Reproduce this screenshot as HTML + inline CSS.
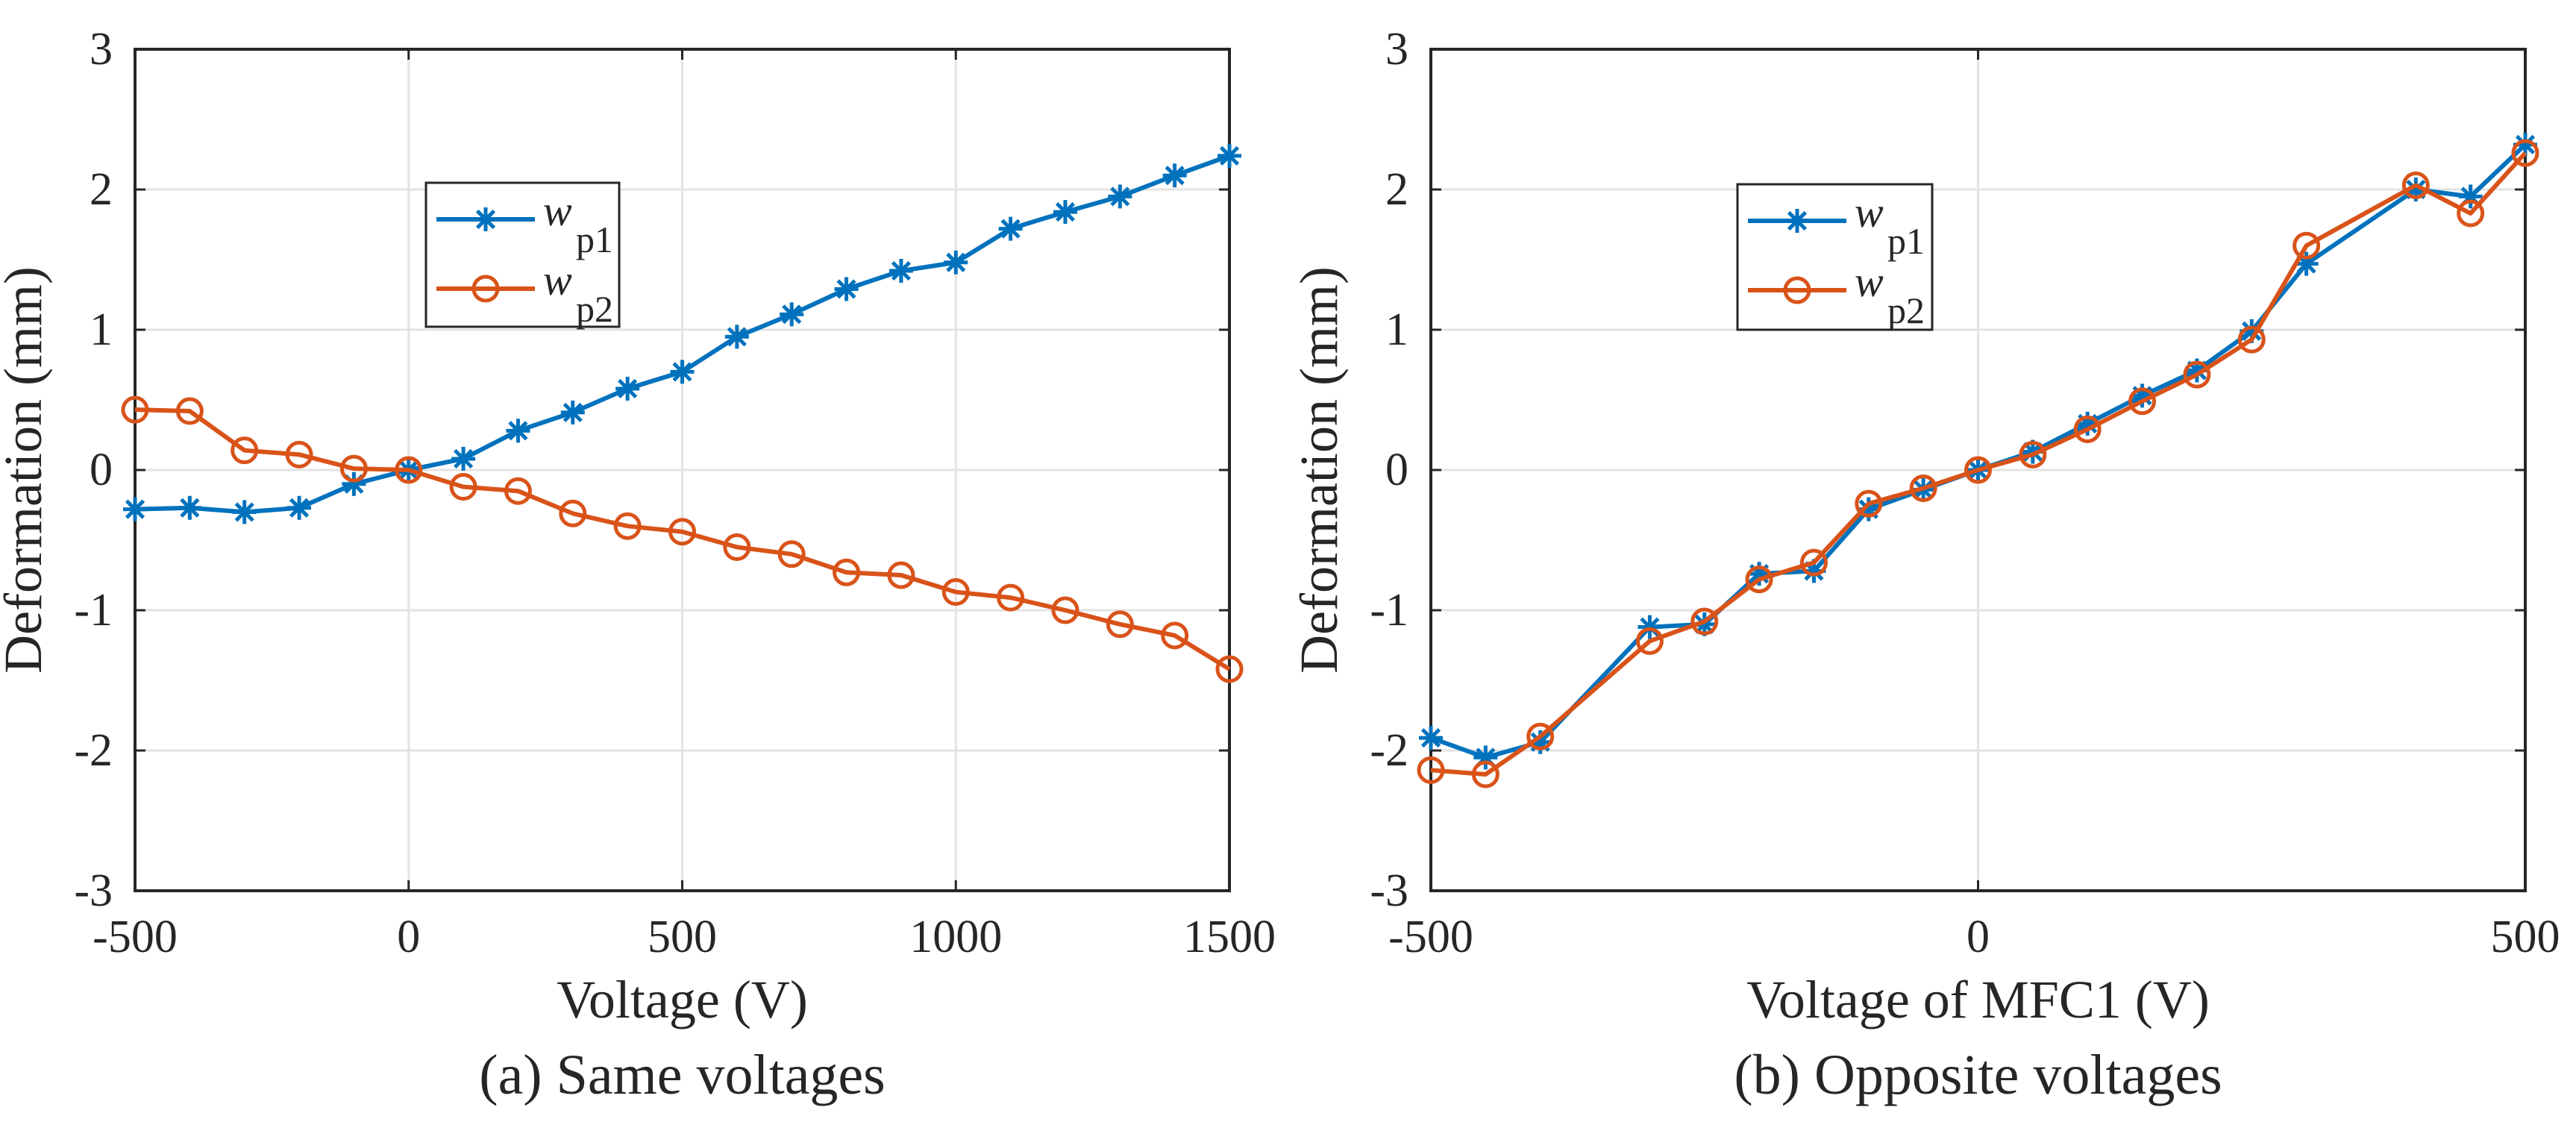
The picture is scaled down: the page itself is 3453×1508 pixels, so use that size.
<!DOCTYPE html>
<html><head><meta charset="utf-8"><style>
body{margin:0;background:#fff;}
svg text{font-family:"Liberation Serif","DejaVu Serif",serif;fill:#262626;}
</style></head><body>
<svg id="fig" width="3453" height="1503" viewBox="0 0 3453 1503" xmlns="http://www.w3.org/2000/svg" font-family="Liberation Serif, DejaVu Serif, serif"></svg>
<script>
const xA = [-500,-400,-300,-200,-100,0,100,200,300,400,500,600,700,800,900,1000,1100,1200,1300,1400,1500];
const wp1A = [-0.28,-0.27,-0.30,-0.27,-0.10,0,0.08,0.28,0.41,0.58,0.70,0.95,1.11,1.29,1.42,1.48,1.72,1.84,1.95,2.10,2.24];
const wp2A = [0.43,0.42,0.14,0.11,0.01,0,-0.12,-0.15,-0.31,-0.40,-0.44,-0.55,-0.60,-0.73,-0.75,-0.87,-0.91,-1.00,-1.10,-1.18,-1.42];
const xB = [-500,-450,-400,-300,-250,-200,-150,-100,-50,0,50,100,150,200,250,300,400,450,500];
const wp1B = [-1.91,-2.05,-1.94,-1.12,-1.10,-0.74,-0.72,-0.28,-0.14,0,0.13,0.33,0.53,0.71,0.99,1.47,2.00,1.95,2.32];
const wp2B = [-2.14,-2.17,-1.90,-1.22,-1.08,-0.78,-0.66,-0.24,-0.13,0,0.11,0.29,0.49,0.68,0.93,1.60,2.03,1.83,2.26];
const yTicks = [-3,-2,-1,0,1,2,3];
const xTicksA = [-500,0,500,1000,1500];
const xTicksB = [-500,0,500];

const NS="http://www.w3.org/2000/svg";
const svg=document.getElementById('fig');
const FF='Liberation Serif, DejaVu Serif, serif';
function mk(tag,attrs,parent){const e=document.createElementNS(NS,tag);for(const k in attrs)e.setAttribute(k,attrs[k]);if(tag==='text')e.setAttribute('font-family',FF);(parent||svg).appendChild(e);return e;}
const BLUE="#0072BD",ORANGE="#D95319";
const axTop=66,axBot=1194;

function star(g,cx,cy){
  const r=16;
  for(let a=0;a<4;a++){const t=a*Math.PI/4;
    mk('line',{x1:cx-r*Math.cos(t),y1:cy-r*Math.sin(t),x2:cx+r*Math.cos(t),y2:cy+r*Math.sin(t),stroke:BLUE,'stroke-width':5},g);}
}
function circ(g,cx,cy){mk('circle',{cx:cx,cy:cy,r:16,fill:'none',stroke:ORANGE,'stroke-width':5},g);}

function panel(id,L,R,xmin,xmax,xs,s1,s2,xticks,xlabel,caption,leg){
  const g=mk('g',{});
  
  
  const X=v=>L+(v-xmin)/(xmax-xmin)*(R-L);
  const Y=v=>axTop+(3-v)/6*(axBot-axTop);
  xticks.forEach(t=>{const l=mk('line',{x1:X(t),x2:X(t),y1:axTop,y2:axBot,stroke:'#e3e3e3','stroke-width':3},g);
    });
  yTicks.forEach(t=>{const l=mk('line',{x1:L,x2:R,y1:Y(t),y2:Y(t),stroke:'#e3e3e3','stroke-width':3},g);
    });
  yTicks.forEach(t=>{
    mk('line',{x1:L,x2:L+14,y1:Y(t),y2:Y(t),stroke:'#262626','stroke-width':3},g);
    mk('line',{x1:R,x2:R-14,y1:Y(t),y2:Y(t),stroke:'#262626','stroke-width':3},g);
    const tx=mk('text',{x:L-30,y:Y(t)+20,'font-size':62,'text-anchor':'end'},g);tx.textContent=t;
    
  });
  xticks.forEach(t=>{
    mk('line',{x1:X(t),x2:X(t),y1:axBot,y2:axBot-14,stroke:'#262626','stroke-width':3},g);
    mk('line',{x1:X(t),x2:X(t),y1:axTop,y2:axTop+14,stroke:'#262626','stroke-width':3},g);
    const tx=mk('text',{x:X(t),y:1276,'font-size':62,'text-anchor':'middle'},g);tx.textContent=t;
    
  });
  const ax=mk('rect',{x:L,y:axTop,width:R-L,height:axBot-axTop,fill:'none',stroke:'#262626','stroke-width':4},g);
  
  const p1=mk('polyline',{points:xs.map((x,i)=>X(x)+','+Y(s1[i])).join(' '),fill:'none',stroke:BLUE,'stroke-width':6,'stroke-linejoin':'round'},g);
  
  xs.forEach((x,i)=>star(g,X(x),Y(s1[i])));
  const p2=mk('polyline',{points:xs.map((x,i)=>X(x)+','+Y(s2[i])).join(' '),fill:'none',stroke:ORANGE,'stroke-width':6,'stroke-linejoin':'round'},g);
  
  xs.forEach((x,i)=>circ(g,X(x),Y(s2[i])));
  const xl=mk('text',{x:(L+R)/2,y:1364,'font-size':72,'text-anchor':'middle'},g);xl.textContent=xlabel;
  
  const yl=mk('text',{x:0,y:0,'font-size':72,'text-anchor':'middle',transform:`translate(${L-126},${(axTop+axBot)/2}) rotate(-90)`},g);yl.textContent='Deformation (mm)';
  
  const cp=mk('text',{x:(L+R)/2,y:1466,'font-size':76,'text-anchor':'middle'},g);cp.textContent=caption;
  
  const lg=mk('g',{},g);
  
  mk('rect',{x:leg[0],y:leg[1],width:leg[2],height:leg[3],fill:'#fff',stroke:'#262626','stroke-width':3},lg);
  const ents=[['p1',BLUE,star],['p2',ORANGE,circ]];
  ents.forEach((e,i)=>{
    const yy=leg[1]+49+i*93, x0=leg[0]+14;
    const ent=mk('g',{},lg);
    
    mk('line',{x1:x0,x2:x0+132,y1:yy,y2:yy,stroke:e[1],'stroke-width':6},ent);
    e[2](ent,x0+66,yy);
    const t=mk('text',{x:x0+143,y:yy+8,'font-size':58,'font-style':'italic'},ent);t.textContent='w';
    const s=mk('text',{x:x0+187,y:yy+44,'font-size':50},ent);s.textContent=e[0];
  });
}
panel('panel-a-same-voltages',181,1648,-500,1500,xA,wp1A,wp2A,xTicksA,'Voltage (V)','(a) Same voltages',[571,245,259,193]);
panel('panel-b-opposite-voltages',1918,3385,-500,500,xB,wp1B,wp2B,xTicksB,'Voltage of MFC1 (V)','(b) Opposite voltages',[2329,247,261,195]);
</script>
</body></html>
